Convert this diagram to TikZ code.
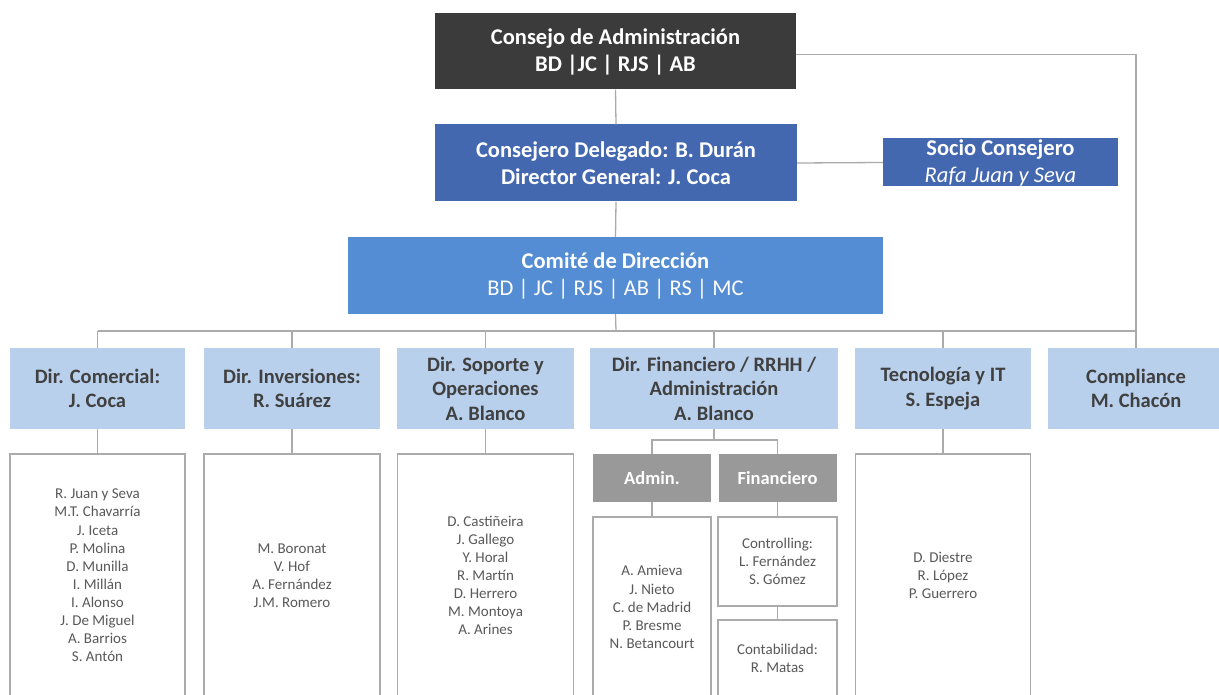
\documentclass[tikz,border=0pt]{standalone}
\usepackage{fontspec}
\setmainfont{Carlito}
\definecolor{darkbox}{HTML}{3B3B3B}
\definecolor{midblue}{HTML}{4468B0}
\definecolor{brightblue}{HTML}{548DD4}
\definecolor{lightblue}{HTML}{B9D0EC}
\definecolor{deptext}{HTML}{404040}
\definecolor{listtext}{HTML}{595959}
\definecolor{graybox}{HTML}{999999}
\definecolor{linegray}{HTML}{ABABAB}
\tikzset{
  box/.style={rectangle, inner sep=0pt, align=center},
  topbox/.style={box, text=white, font=\fontsize{22.5}{27}\selectfont\bfseries},
  deptbox/.style={box, fill=lightblue, text=deptext, minimum height=81pt, font=\fontsize{20.5}{24.5}\selectfont\bfseries},
  listbox/.style={box, draw=linegray, line width=1.2pt, fill=white, text=listtext, font=\fontsize{15}{18.1}\selectfont},
  subbox/.style={box, fill=graybox, text=white, minimum width=118pt, minimum height=48pt, font=\fontsize{18.5}{20}\selectfont\bfseries},
  conn/.style={draw=linegray, line width=1.3pt},
}
\begin{document}
\begin{tikzpicture}[x=1pt,y=-1pt]
\useasboundingbox (0,0) rectangle (1219,695);
% top levels
\node[topbox, fill=darkbox, minimum width=361pt, minimum height=76pt] (cons) at (615.5,51.5)
  {Consejo de Administración\\BD |JC | RJS | AB};
\node[topbox, fill=midblue, minimum width=362pt, minimum height=77pt] (dele) at (616,163)
  {Consejero Delegado: B. Durán\\Director General: J. Coca};
\node[topbox, fill=midblue, minimum width=235pt, minimum height=48pt] (socio) at (1000.5,162.5)
  {Socio Consejero\\{\mdseries\itshape Rafa Juan y Seva}};
\node[topbox, fill=brightblue, minimum width=535pt, minimum height=77pt] (comite) at (615.5,275.5)
  {Comité de Dirección\\{\mdseries BD | JC | RJS | AB | RS | MC}};
% departments
\node[deptbox, minimum width=175pt] (com) at (97.5,388.5) {Dir. Comercial:\\J. Coca};
\node[deptbox, minimum width=176pt] (inv) at (292,388.5) {Dir. Inversiones:\\R. Suárez};
\node[deptbox, minimum width=177pt] (sop) at (485.5,388.5) {Dir. Soporte y\\Operaciones\\A. Blanco};
\node[deptbox, minimum width=248pt] (fin) at (714,388.5) {Dir. Financiero / RRHH /\\Administración\\A. Blanco};
\node[deptbox, minimum width=176pt] (tec) at (943,388.5) {Tecnología y IT\\S. Espeja};
\node[deptbox, minimum width=176pt] (cmp) at (1136,388.5) {Compliance\\M. Chacón};
% lists
\node[listbox, minimum width=175pt, minimum height=243pt] (lc) at (97.5,575.5)
  {R. Juan y Seva\\M.T. Chavarría\\J. Iceta\\P. Molina\\D. Munilla\\I. Millán\\I. Alonso\\J. De Miguel\\A. Barrios\\S. Antón};
\node[listbox, minimum width=176pt, minimum height=243pt] (li) at (292,575.5)
  {M. Boronat\\V. Hof\\A. Fernández\\J.M. Romero};
\node[listbox, minimum width=176pt, minimum height=243pt] (ls) at (485.5,575.5)
  {D. Castiñeira\\J. Gallego\\Y. Horal\\R. Martín\\D. Herrero\\M. Montoya\\A. Arines};
\node[listbox, minimum width=175pt, minimum height=243pt] (lt) at (943,575.5)
  {D. Diestre\\R. López\\P. Guerrero};
% finance sub-units
\node[subbox] (adm) at (652,478) {Admin.};
\node[subbox] (fgr) at (777.5,478) {Financiero};
\node[listbox, minimum width=118pt, minimum height=180pt] (adl) at (652,607)
  {A. Amieva\\J. Nieto\\C. de Madrid\\P. Bresme\\N. Betancourt};
\node[listbox, minimum width=119pt, minimum height=89pt] (ctl) at (777.5,561.5)
  {Controlling:\\L. Fernández\\S. Gómez};
\node[listbox, minimum width=119pt, minimum height=77pt] (cnt) at (777.5,658.5)
  {Contabilidad:\\R. Matas};
% connectors
\coordinate (bus) at (616,331);
\coordinate (fbus) at (714,440);
\draw[conn] (cons.south) -- (dele.north);
\draw[conn] ([yshift=-3pt]cons.east) -| (cmp.north);
\draw[conn] (dele.east) -- (socio.west);
\draw[conn] (dele.south) -- (comite.north);
\draw[conn] (comite.south) -- (bus);
\draw[conn] (com.north |- bus) -- (cmp.north |- bus);
\foreach \d in {com,inv,sop,fin,tec}{\draw[conn] (\d.north) -- (\d.north |- bus);}
\draw[conn] (com.south) -- (lc.north);
\draw[conn] (inv.south) -- (li.north);
\draw[conn] (sop.south) -- (ls.north);
\draw[conn] (tec.south) -- (lt.north);
\draw[conn] (fin.south) -- (fbus);
\draw[conn] (adm.north) -- (adm.north |- fbus) -| (fgr.north);
\draw[conn] (adm.south) -- (adl.north);
\draw[conn] (fgr.south) -- (ctl.north);
\draw[conn] (ctl.south) -- (cnt.north);
\end{tikzpicture}
\end{document}
